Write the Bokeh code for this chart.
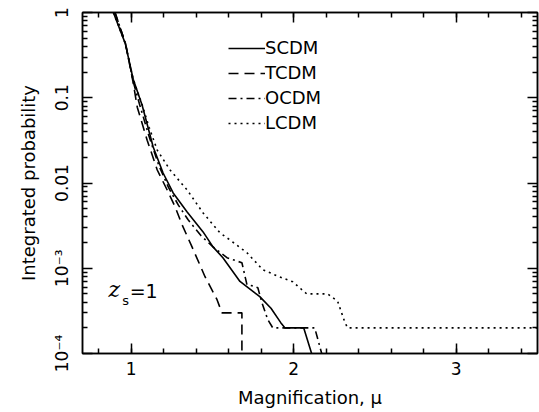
from bokeh.plotting import figure
from bokeh.models import (LogAxis, LinearAxis, Legend, LegendItem, Label,
                          SingleIntervalTicker, FixedTicker, CustomJSTickFormatter)
from bokeh.embed import file_html
from bokeh.resources import INLINE

# ---------------- data ----------------
scdm_mu = [0.89, 0.963, 1.012, 1.067, 1.135, 1.196, 1.258, 1.344, 1.442, 1.503,
           1.564, 1.669, 1.791, 1.86, 1.92, 1.945, 2.061, 2.110]
scdm_p = [1.0, 0.434, 0.165, 0.0817, 0.0264, 0.0131, 0.00764, 0.00458, 0.00267, 0.00178,
          0.00133, 0.00070, 0.000464, 0.00034, 0.00023, 0.0002, 0.0002, 0.0001]

tcdm_mu = [0.90, 0.965, 1.012, 1.037, 1.098, 1.160, 1.221, 1.270, 1.313, 1.374,
           1.454, 1.528, 1.558, 1.681, 1.681]
tcdm_p = [1.0, 0.43, 0.15, 0.0774, 0.0318, 0.0142, 0.00828, 0.00524, 0.00323, 0.00178,
          0.000796, 0.000428, 0.0003, 0.0003, 0.0001]

ocdm_mu = [0.90, 0.965, 1.012, 1.05, 1.11, 1.17, 1.23, 1.29, 1.35, 1.43, 1.503,
           1.589, 1.681, 1.712, 1.75, 1.779, 1.804, 1.840, 1.871, 2.129, 2.172]
ocdm_p = [1.0, 0.43, 0.155, 0.085, 0.035, 0.016, 0.0088, 0.0055, 0.0037, 0.0024, 0.00178,
          0.00133, 0.00116, 0.00064, 0.00062, 0.00059, 0.000395, 0.00025, 0.0002, 0.0002, 0.0001]

lcdm_mu = [0.89, 0.963, 1.012, 1.067, 1.11, 1.160, 1.239, 1.344, 1.442, 1.546, 1.607,
           1.712, 1.810, 1.914, 1.994, 2.055, 2.080, 2.209, 2.270, 2.313, 2.331, 3.5]
lcdm_p = [1.0, 0.434, 0.165, 0.083, 0.045, 0.0243, 0.0142, 0.00828, 0.00446, 0.0026, 0.00215,
          0.00152, 0.00096, 0.00079, 0.000695, 0.00055, 0.0005, 0.0005, 0.00041, 0.000237, 0.0002, 0.0002]

series_names = ["SCDM", "TCDM", "OCDM", "LCDM"]

xtick_values = [1, 2, 3]
ytick_values = [1e-4, 1e-3, 1e-2, 1e-1, 1.0]
ytick_labels = ["10⁻⁴", "10⁻³", "0.01", "0.1", "1"]

FONT = "DejaVu Sans"

p = figure(width=539, height=410, x_range=(0.7, 3.5), y_range=(1e-4, 1.0),
           y_axis_type="log", output_backend="svg", toolbar_location=None,
           min_border_left=82, min_border_right=2, min_border_top=12, min_border_bottom=56)
p.xgrid.visible = False
p.ygrid.visible = False
p.outline_line_color = "black"
p.outline_line_width = 1.5
p.background_fill_color = "white"
p.border_fill_color = "white"

y_minor = [m * v for v in ytick_values[:-1] for m in range(2, 10)]

def style_common(ax):
    ax.major_tick_in = 10
    ax.major_tick_out = 0
    ax.minor_tick_in = 5
    ax.minor_tick_out = 0
    ax.axis_line_width = 1.5
    ax.major_tick_line_width = 1.5
    ax.minor_tick_line_width = 1.5
    ax.axis_line_color = "black"
    ax.major_tick_line_color = "black"
    ax.minor_tick_line_color = "black"
    ax.major_label_text_font = FONT
    ax.major_label_text_color = "black"

def hide_labels(ax):
    ax.major_label_text_font_size = "0px"
    ax.major_label_standoff = 0
    ax.formatter = CustomJSTickFormatter(code="return ''")

def style_x(ax, labels=True):
    ax.ticker = SingleIntervalTicker(interval=1, num_minor_ticks=5)
    style_common(ax)
    if labels:
        ax.major_label_text_font_size = "17px"
        ax.major_label_standoff = 8
    else:
        hide_labels(ax)

def style_y(ax, labels=True):
    ax.ticker = FixedTicker(ticks=ytick_values, minor_ticks=y_minor)
    style_common(ax)
    if labels:
        ax.major_label_text_font_size = "17px"
        ax.major_label_standoff = 11
        ax.major_label_orientation = "vertical"
        ax.formatter = CustomJSTickFormatter(
            args=dict(vals=ytick_values, labs=ytick_labels),
            code="""
            for (let i = 0; i < vals.length; i++) {
              if (Math.abs(Math.log10(tick) - Math.log10(vals[i])) < 1e-6) return labs[i];
            }
            return '';
            """)
    else:
        hide_labels(ax)

style_x(p.xaxis[0])
style_y(p.yaxis[0])
p.xaxis[0].axis_label = "Magnification, μ"
p.yaxis[0].axis_label = "Integrated probability"
for ax in (p.xaxis[0], p.yaxis[0]):
    ax.axis_label_text_font = FONT
    ax.axis_label_text_font_size = "18px"
    ax.axis_label_text_font_style = "normal"
    ax.axis_label_text_color = "black"
p.xaxis[0].axis_label_standoff = 9
p.yaxis[0].axis_label_standoff = 10

top = LinearAxis()
style_x(top, labels=False)
p.add_layout(top, "above")
right = LogAxis()
style_y(right, labels=False)
p.add_layout(right, "right")

lw = 1.6
r1 = p.line(scdm_mu, scdm_p, line_color="black", line_width=lw)
r2 = p.line(tcdm_mu, tcdm_p, line_color="black", line_width=lw, line_dash="10 6")
r3 = p.line(ocdm_mu, ocdm_p, line_color="black", line_width=lw, line_dash="8 4 2 4")
r4 = p.line(lcdm_mu, lcdm_p, line_color="black", line_width=lw, line_dash="2 4")

legend = Legend(items=[LegendItem(label=n, renderers=[r]) for n, r in
                       zip(series_names, [r1, r2, r3, r4])],
                location=(146, 220), orientation="vertical",
                glyph_width=37, glyph_height=20, label_height=20, spacing=4,
                padding=0, margin=0, label_standoff=0,
                border_line_color=None, background_fill_alpha=0,
                label_text_font=FONT, label_text_font_size="18px",
                label_text_color="black")
p.add_layout(legend)

p.add_layout(Label(x=0.86, y=4.0e-4, text="z", text_font="DejaVu Serif",
                   text_font_style="italic", text_font_size="22px", text_color="black"))
p.add_layout(Label(x=0.945, y=3.4e-4, text="s", text_font=FONT,
                   text_font_size="13px", text_color="black"))
p.add_layout(Label(x=0.99, y=4.0e-4, text="=1", text_font=FONT,
                   text_font_size="19px", text_color="black"))

open("out.html", "w").write(file_html(p, INLINE))
